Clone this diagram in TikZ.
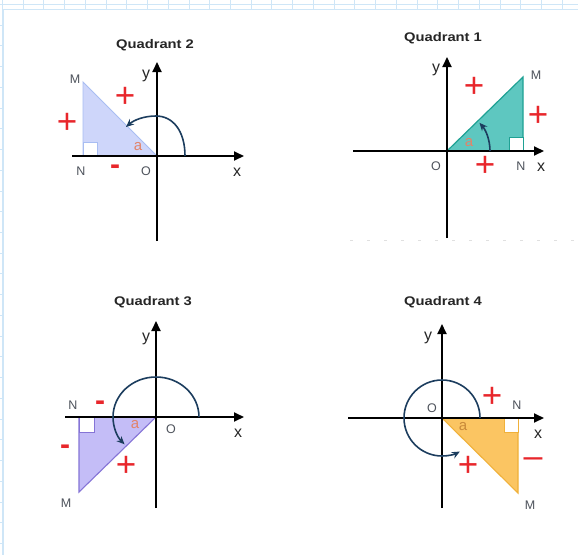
\documentclass[tikz,border=0pt]{standalone}
\usepackage{fontspec}
\setmainfont{Liberation Sans}
\newfontfamily\titlefont[FakeStretch=1.18]{Liberation Sans}
\usetikzlibrary{arrows.meta}
\definecolor{gridblue}{HTML}{CFE6F7}
\definecolor{arcnavy}{HTML}{1C3D5E}
\definecolor{signred}{HTML}{E8262B}
\definecolor{lblgray}{HTML}{4E535C}
\definecolor{anglecol}{HTML}{E2836A}
\definecolor{anglefour}{HTML}{C98A3A}
\definecolor{qtwofill}{HTML}{CED6FA}
\definecolor{qtwoline}{HTML}{A8BDF2}
\definecolor{qonefill}{HTML}{5EC7C0}
\definecolor{qoneline}{HTML}{1FA194}
\definecolor{qthreefill}{HTML}{C4BDF7}
\definecolor{qthreeline}{HTML}{8574D6}
\definecolor{qfourfill}{HTML}{FBC562}
\definecolor{qfourline}{HTML}{F0B13A}
\tikzset{
  axisline/.style={line width=1.9pt, -{Triangle[length=10pt,width=9pt]}},
  plainaxis/.style={line width=1.9pt},
  qtitle/.style={font=\titlefont\bfseries\fontsize{12.5}{14}\selectfont, text=black!85},
  ptlbl/.style={text=lblgray, font=\fontsize{12.5}{13}\selectfont, inner sep=0},
  axlbl/.style={text=black!85, font=\fontsize{16}{16}\selectfont, inner sep=0},
  anglbl/.style={text=anglecol, font=\fontsize{15}{15}\selectfont, inner sep=0},
  plussign/.style={text=signred, font=\fontsize{35}{35}\selectfont, inner sep=0},
  minussign/.style={text=signred, font=\bfseries\fontsize{30}{30}\selectfont, inner sep=0},
  longminus/.style={text=signred, font=\fontsize{34}{34}\selectfont, inner sep=0},
  rotarrow/.style={draw=arcnavy, line width=1.6pt, -{Stealth[length=8pt,width=7pt]}},
  rightsq/.style={fill=white, line width=0.9pt},
}
\begin{document}
\begin{tikzpicture}[x=1pt,y=-1pt]
\useasboundingbox (0,0) rectangle (578,555);
% background grid and panel
\foreach \k in {-1,...,27} \draw[gridblue, line width=0.8pt] ({23+20.74*\k},0) -- ({23+20.74*\k},555);
\foreach \k in {-1,...,26} \draw[gridblue, line width=0.8pt] (0,{25+20.74*\k}) -- (578,{25+20.74*\k});
\fill[white] (3,9) rectangle (578,555);
\draw[gridblue, line width=0.8pt] (3,555) -- (3,9) -- (578,9);
\draw[black!12, dashed, dash pattern=on 3pt off 14pt] (350,240) -- (578,240);

% ================= Quadrant 2 =================
\coordinate (O2) at (157,156);
\coordinate (N2) at (83,156);
\coordinate (M2) at (83,82);
\coordinate (L2) at (72,156);
\coordinate (R2) at (244,156);
\coordinate (T2) at (157,62);
\coordinate (B2) at (157,241);
\coordinate (S2) at (185,156);
\coordinate (E2) at (126,127);
\node[qtitle] (t2) at (155,45) {Quadrant 2};
\fill[qtwofill] (O2) -- (N2) -- (M2) -- cycle;
\draw[qtwoline, line width=0.9pt] (N2) -- (M2) -- (O2);
\draw[qtwoline, rightsq] (N2) rectangle ++(14,-14);
\draw[plainaxis] (L2) -- (O2);
\draw[axisline] (L2) -- (R2);
\draw[axisline] (B2) -- (T2);
\draw[rotarrow] (S2) .. controls (185,131) and (173,116) .. (156,116) .. controls (144,116) and (134,120) .. (E2);
\node[ptlbl] (m2) at (75,79) {M};
\node[ptlbl] (n2) at (81,171) {N};
\node[ptlbl] (o2) at (146,171) {O};
\node[axlbl] (x2) at (237,172) {x};
\node[axlbl] (y2) at (146,76) {y};
\node[anglbl] (a2) at (138,147) {a};
\node[plussign] (p2a) at (125,97) {+};
\node[plussign] (p2b) at (67,123) {+};
\node[minussign] (m2a) at (115,170) {-};

% ================= Quadrant 1 =================
\coordinate (O1) at (447,151);
\coordinate (N1) at (523,151);
\coordinate (M1) at (523,77);
\coordinate (L1) at (353,151);
\coordinate (R1) at (544,151);
\coordinate (T1) at (447,57);
\coordinate (B1) at (447,238);
\node[qtitle] (t1) at (443,38) {Quadrant 1};
\fill[qonefill] (O1) -- (N1) -- (M1) -- cycle;
\draw[qoneline, line width=1.2pt] (N1) -- (M1) -- (O1);
\draw[qoneline, rightsq] (N1) rectangle ++(-14,-14);
\draw[axisline] (L1) -- (R1);
\draw[axisline] (B1) -- (T1);
\draw[rotarrow] (490,151) arc[start angle=0, end angle=-41, radius=43];
\node[ptlbl] (m1) at (536,75) {M};
\node[ptlbl] (n1) at (521,166) {N};
\node[ptlbl] (o1) at (436,166) {O};
\node[axlbl] (x1) at (541,167) {x};
\node[axlbl] (y1) at (436,70) {y};
\node[anglbl] (a1) at (469,143) {a};
\node[plussign] (p1a) at (474,87) {+};
\node[plussign] (p1b) at (538,116) {+};
\node[plussign] (p1c) at (485,166) {+};

% ================= Quadrant 3 =================
\coordinate (O3) at (156,417);
\coordinate (N3) at (79,417);
\coordinate (M3) at (79,492);
\coordinate (L3) at (65,417);
\coordinate (R3) at (244,417);
\coordinate (T3) at (156,321);
\coordinate (B3) at (156,508);
\node[qtitle] (t3) at (153,302) {Quadrant 3};
\fill[qthreefill] (O3) -- (N3) -- (M3) -- cycle;
\draw[qthreeline, line width=1.1pt] (N3) -- (M3) -- (O3);
\draw[qthreeline, rightsq] (N3) rectangle ++(15,15);
\draw[axisline] (L3) -- (R3);
\draw[axisline] (B3) -- (T3);
\draw[rotarrow] (199,417) arc[start angle=0, end angle=-223, x radius=43, y radius=40];
\node[ptlbl] (m3) at (66,503) {M};
\node[ptlbl] (n3) at (73,405) {N};
\node[ptlbl] (o3) at (171,429) {O};
\node[axlbl] (x3) at (238,433) {x};
\node[axlbl] (y3) at (146,339) {y};
\node[anglbl] (a3) at (135,425) {a};
\node[minussign] (m3a) at (100,406) {-};
\node[minussign] (m3b) at (65,450) {-};
\node[plussign] (p3a) at (126,466) {+};

% ================= Quadrant 4 =================
\coordinate (O4) at (442,418);
\coordinate (N4) at (518,418);
\coordinate (M4) at (518,493);
\coordinate (L4) at (348,418);
\coordinate (R4) at (544,418);
\coordinate (T4) at (442,324);
\coordinate (B4) at (442,508);
\node[qtitle] (t4) at (443,302) {Quadrant 4};
\fill[qfourfill] (O4) -- (N4) -- (M4) -- cycle;
\draw[qfourline, line width=1.1pt] (N4) -- (M4) -- (O4);
\draw[qfourline, rightsq] (N4) rectangle ++(-14,14);
\draw[axisline] (L4) -- (R4);
\draw[axisline] (B4) -- (T4);
\draw[rotarrow] (480,418) arc[start angle=0, end angle=-298, radius=38];
\node[ptlbl] (m4) at (530,505) {M};
\node[ptlbl] (n4) at (517,405) {N};
\node[ptlbl] (o4) at (432,408) {O};
\node[axlbl] (x4) at (538,434) {x};
\node[axlbl] (y4) at (428,338) {y};
\node[anglbl, text=anglefour] (a4) at (463,427) {a};
\node[plussign] (p4a) at (492,397) {+};
\node[plussign] (p4b) at (468,466) {+};
\node[longminus] (m4a) at (533,467) {\smash{–}};
\end{tikzpicture}
\end{document}
